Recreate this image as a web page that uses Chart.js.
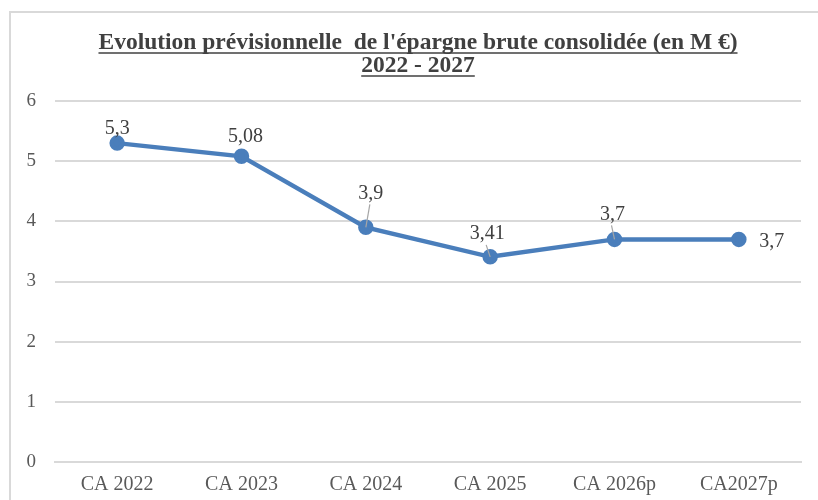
<!DOCTYPE html>
<html>
<head>
<meta charset="utf-8">
<script src="https://cdn.jsdelivr.net/npm/chart.js@4.4.1/dist/chart.umd.min.js"></script>
<style>
html,body{margin:0;padding:0;background:#fff;}
#wrap{width:818px;height:500px;position:relative;}
</style>
</head>
<body>
<div id="wrap"><canvas id="c" width="818" height="500"></canvas></div>
<script>
const titleLines = ["Evolution prévisionnelle  de l'épargne brute consolidée (en M €)", "2022 - 2027"];
const categories = ["CA 2022", "CA 2023", "CA 2024", "CA 2025", "CA 2026p", "CA2027p"];
const epargneBrute = [5.3, 5.08, 3.9, 3.41, 3.7, 3.7];
const valueLabels = ["5,3", "5,08", "3,9", "3,41", "3,7", "3,7"];
const yTicks = [0, 1, 2, 3, 4, 5, 6];

const FONT = "'Liberation Serif', 'Times New Roman', serif";

const framePlugin = {
  id: 'frame',
  beforeDraw(chart) {
    const ctx = chart.ctx;
    ctx.save();
    ctx.strokeStyle = '#d9d9d9';
    ctx.lineWidth = 2;
    ctx.strokeRect(10, 12, 820, 500);
    ctx.restore();
  }
};

const titlePlugin = {
  id: 'ulTitle',
  afterDraw(chart) {
    const ctx = chart.ctx;
    ctx.save();
    ctx.font = "bold 23.5px " + FONT;
    ctx.fillStyle = '#404040';
    ctx.strokeStyle = '#404040';
    ctx.textAlign = 'center';
    ctx.textBaseline = 'alphabetic';
    const cx = 418;
    const ys = [49, 72];
    titleLines.forEach((t, i) => {
      ctx.fillText(t, cx, ys[i]);
      const w = ctx.measureText(t).width;
      ctx.lineWidth = 1.5;
      ctx.beginPath();
      ctx.moveTo(cx - w / 2, ys[i] + 4);
      ctx.lineTo(cx + w / 2, ys[i] + 4);
      ctx.stroke();
    });
    ctx.restore();
  }
};

const labelPlugin = {
  id: 'valLabels',
  afterDatasetsDraw(chart, args, opts) {
    const ctx = chart.ctx;
    const meta = chart.getDatasetMeta(0);
    ctx.save();
    ctx.font = "20px " + FONT;
    ctx.fillStyle = '#404040';
    ctx.textAlign = 'center';
    ctx.textBaseline = 'middle';
    meta.data.forEach((pt, i) => {
      const o = opts.offsets[i];
      const lx = pt.x + o[0], ly = pt.y + o[1];
      if (o[2]) {
        ctx.strokeStyle = '#a6a6a6';
        ctx.lineWidth = 1.2;
        ctx.beginPath();
        ctx.moveTo(lx - 1, ly + 11);
        ctx.lineTo(pt.x, pt.y);
        ctx.stroke();
      }
      ctx.fillText(valueLabels[i], lx, ly);
    });
    ctx.restore();
  }
};

new Chart(document.getElementById('c'), {
  type: 'line',
  data: {
    labels: categories,
    datasets: [{
      data: epargneBrute,
      borderColor: '#4a7ebb',
      backgroundColor: '#4a7ebb',
      borderWidth: 4.5,
      pointRadius: 5.5,
      pointHoverRadius: 5.5,
      pointBackgroundColor: '#4a7ebb',
      pointBorderColor: '#4a7ebb',
      tension: 0,
      fill: false
    }]
  },
  options: {
    responsive: false,
    animation: false,
    events: [],
    layout: { padding: { top: 101, right: 17, bottom: 0, left: 0 } },
    plugins: {
      legend: { display: false },
      title: { display: false },
      tooltip: { enabled: false },
      valLabels: {
        offsets: [[0, -14, false], [4, -20, false], [5, -34, true], [-3, -23, true], [-2, -25, true], [33, 2, false]]
      }
    },
    scales: {
      x: {
        offset: true,
        grid: { display: false, drawTicks: false },
        border: { display: true, color: '#d9d9d9', width: 2 },
        ticks: { color: '#595959', font: { family: FONT, size: 20 }, padding: 11, maxRotation: 0 },
        afterFit(s) { s.height = 38; }
      },
      y: {
        min: 0, max: 6,
        afterBuildTicks(s) { s.ticks = yTicks.map(v => ({ value: v })); },
        grid: { color: '#d9d9d9', lineWidth: 2, drawTicks: false },
        border: { display: false },
        ticks: { color: '#595959', font: { family: FONT, size: 19 }, padding: 19 },
        afterFit(s) { s.width = 55; }
      }
    }
  },
  plugins: [framePlugin, titlePlugin, labelPlugin]
});
</script>
</body>
</html>
